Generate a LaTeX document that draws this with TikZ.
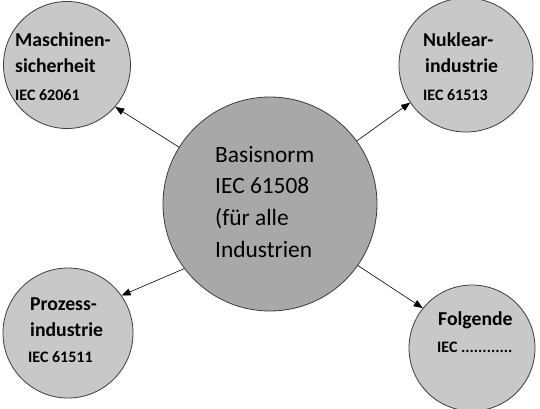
\documentclass[tikz,border=0pt]{standalone}
\usepackage{fontspec}
\setmainfont{Carlito}
\usetikzlibrary{arrows.meta}
\definecolor{smallfill}{RGB}{200,200,200}
\definecolor{bigfill}{RGB}{168,168,168}
\definecolor{rim}{RGB}{60,60,60}
\begin{document}
\begin{tikzpicture}[x=1pt,y=-1pt,
  disc/.style={circle,draw=rim,line width=0.8pt,fill=smallfill,inner sep=0pt},
  bigdisc/.style={circle,draw=rim,line width=0.8pt,fill=bigfill,inner sep=0pt},
  lbl/.style={anchor=base west,inner sep=0pt,font=\fontsize{19.7}{22}\selectfont\bfseries},
  code/.style={anchor=base west,inner sep=0pt,font=\fontsize{16}{18}\selectfont\bfseries},
  mid/.style={anchor=base west,inner sep=0pt,font=\fontsize{23.4}{26}\selectfont},
  link/.style={draw=black,line width=0.6pt,-{Triangle[length=9pt,width=7pt]}}]
\useasboundingbox[fill=white] (0,0) rectangle (540,409);
% circles
\node[bigdisc,minimum size=214pt] (c) at (270,204) {};
\node[disc,minimum size=127pt] (tl) at (67,65) {};
\node[disc,minimum size=134pt] (tr) at (466,65) {};
\node[disc,minimum size=130pt] (bl) at (68,333) {};
\node[disc,minimum size=126pt] (br) at (472,348) {};
% connectors
\draw[link] (c.148) -- (tl.-41);
\draw[link] (c.36) -- (tr.214);
\draw[link] (c.217) -- (bl.35);
\draw[link] (c.-35) -- (br.141);
% texts
\node[mid] (c1) at (215,162) {Basisnorm};
\node[mid] (c2) at (215,193) {IEC 61508};
\node[mid] (c3) at (215,225) {(für alle};
\node[mid] (c4) at (215,257) {Industrien};
\node[lbl] (tl1) at (15,47) {Maschinen-};
\node[lbl] (tl2) at (15,73) {sicherheit};
\node[code] (tl3) at (15,100) {IEC 62061};
\node[lbl] (tr1) at (423,47) {Nuklear-};
\node[lbl] (tr2) at (425,73) {industrie};
\node[code] (tr3) at (423,100) {IEC 61513};
\node[lbl] (bl1) at (30,310) {Prozess-};
\node[lbl] (bl2) at (30,336) {industrie};
\node[code] (bl3) at (28,362) {IEC 61511};
\node[lbl] (br1) at (438,325) {Folgende};
\node[code] (br2) at (437,352) {IEC ............};
\end{tikzpicture}
\end{document}
